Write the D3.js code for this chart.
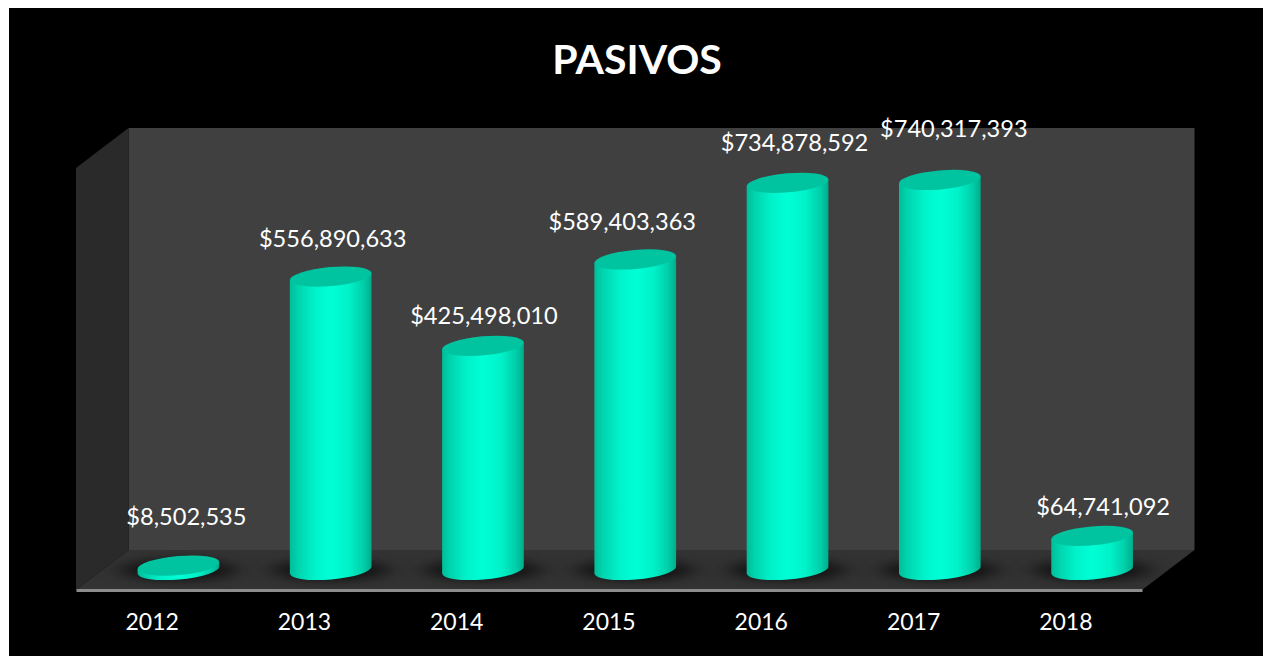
<!DOCTYPE html>
<html>
<head>
<meta charset="utf-8">
<script src="https://cdn.jsdelivr.net/npm/d3@7"></script>
<style>
  html, body { margin: 0; padding: 0; background: #fff; overflow: hidden; }
  text { font-family: Lato, "Open Sans", sans-serif; fill: #fff; }
</style>
</head>
<body>
<div class="chart"></div>
<script>
const title = "PASIVOS";
const years = ["2012", "2013", "2014", "2015", "2016", "2017", "2018"];
const pasivos = [8502535, 556890633, 425498010, 589403363, 734878592, 740317393, 64741092];

// labels were moved by hand in the original, so they don't sit centered
const labelNudgeX = [8, 2, 1, -13, 7, 14, 11];
const labelNudgeY = [-49, -38, -30, -38, -40, -51, -29];

const width = 1263, height = 656;
const front = ({left: 76, right: 1142, y: 590});
const depth = ({x: 52.5, y: 40});
const wallTop = 128;
const baseY = 570;
const rx = 41, ry = 9.5, tilt = -5;

const svg = d3.select(".chart").append("svg")
    .attr("width", width)
    .attr("height", height)
    .style("display", "block");

svg.append("rect")
    .attr("x", 9).attr("y", 8)
    .attr("width", width - 9).attr("height", height - 8)
    .attr("fill", "#000");

const defs = svg.append("defs");

const grad = defs.append("linearGradient").attr("id", "body");
[[0, "#00bd99"], [0.1, "#00d4ae"], [0.3, "#00f2ca"], [0.5, "#00ffd6"],
 [0.72, "#00f2c9"], [0.9, "#00cfaa"], [1, "#00ad8b"]].forEach(s => {
  grad.append("stop").attr("offset", s[0]).attr("stop-color", s[1]);
});

defs.append("filter").attr("id", "soft")
    .attr("x", "-50%").attr("y", "-120%").attr("width", "200%").attr("height", "340%")
    .attr("color-interpolation-filters", "sRGB")
  .append("feGaussianBlur").attr("stdDeviation", "12 5");

defs.append("clipPath").attr("id", "floorClip")
  .append("path").attr("d", floorPath());

const xAxisScale = d3.scaleBand()
    .domain(years)
    .range([front.left, front.right]);

// columns stand halfway into the depth of the floor
const x = d => xAxisScale(d) + xAxisScale.bandwidth() / 2 + depth.x / 2;

const y = d3.scaleLinear()
    .domain([0, 800000000])
    .range([baseY, 148.5]);

// walls and floor
svg.append("path")
    .attr("d", `M${front.left + depth.x},${wallTop}H${front.right + depth.x}V${front.y - depth.y}H${front.left + depth.x}Z`)
    .attr("fill", "#404040");

svg.append("path")
    .attr("d", `M${front.left},${wallTop + depth.y}L${front.left + depth.x},${wallTop}V${front.y - depth.y}L${front.left},${front.y}Z`)
    .attr("fill", "#2a2a2a");

svg.append("path")
    .attr("d", floorPath())
    .attr("fill", "#333333");

svg.append("g")
    .attr("clip-path", "url(#floorClip)")
  .selectAll("ellipse")
  .data(years)
  .join("ellipse")
    .attr("cx", d => x(d))
    .attr("cy", baseY)
    .attr("rx", 58)
    .attr("ry", 11)
    .attr("fill", "#141414")
    .attr("filter", "url(#soft)");

// x axis, its domain line is the front edge of the floor
const xAxis = d3.axisBottom(xAxisScale)
    .tickSize(0)
    .tickPadding(24);

svg.append("g")
    .attr("transform", `translate(0,${front.y})`)
    .call(xAxis)
    .call(g => g.select(".domain").attr("stroke", "#8c8c8c").attr("stroke-width", 3))
    .call(g => g.selectAll("text").attr("font-size", 23).attr("font-family", null));

// cylinders
const rad = tilt * Math.PI / 180;
const dx = rx * Math.cos(rad), dy = rx * Math.sin(rad);

const cols = svg.append("g").selectAll("g")
  .data(years.map((year, i) => ({year, value: pasivos[i], i})))
  .join("g");

cols.append("path")
    .attr("fill", "url(#body)")
    .attr("d", d => {
      const cx = x(d.year), top = y(d.value);
      return `M${cx - dx},${top - dy}V${baseY - dy}` +
        `A${rx},${ry} ${tilt} 0 0 ${cx + dx},${baseY + dy}` +
        `V${top + dy}Z`;
    });

cols.append("ellipse")
    .attr("rx", rx)
    .attr("ry", ry)
    .attr("fill", "#00c3a0")
    .attr("transform", d => `translate(${x(d.year)},${y(d.value)}) rotate(${tilt})`);

cols.append("text")
    .attr("x", d => x(d.year) + labelNudgeX[d.i])
    .attr("y", d => y(d.value) + labelNudgeY[d.i])
    .attr("dy", "0.35em")
    .attr("text-anchor", "middle")
    .attr("font-size", 23.6)
    .text(d => "$" + d3.format(",")(d.value));

svg.append("text")
    .attr("x", 637)
    .attr("y", 74)
    .attr("text-anchor", "middle")
    .attr("font-size", 41)
    .attr("font-weight", 700)
    .text(title);

function floorPath() {
  return `M${front.left},${front.y}L${front.left + depth.x},${front.y - depth.y}` +
    `H${front.right + depth.x}L${front.right},${front.y}Z`;
}
</script>
</body>
</html>
